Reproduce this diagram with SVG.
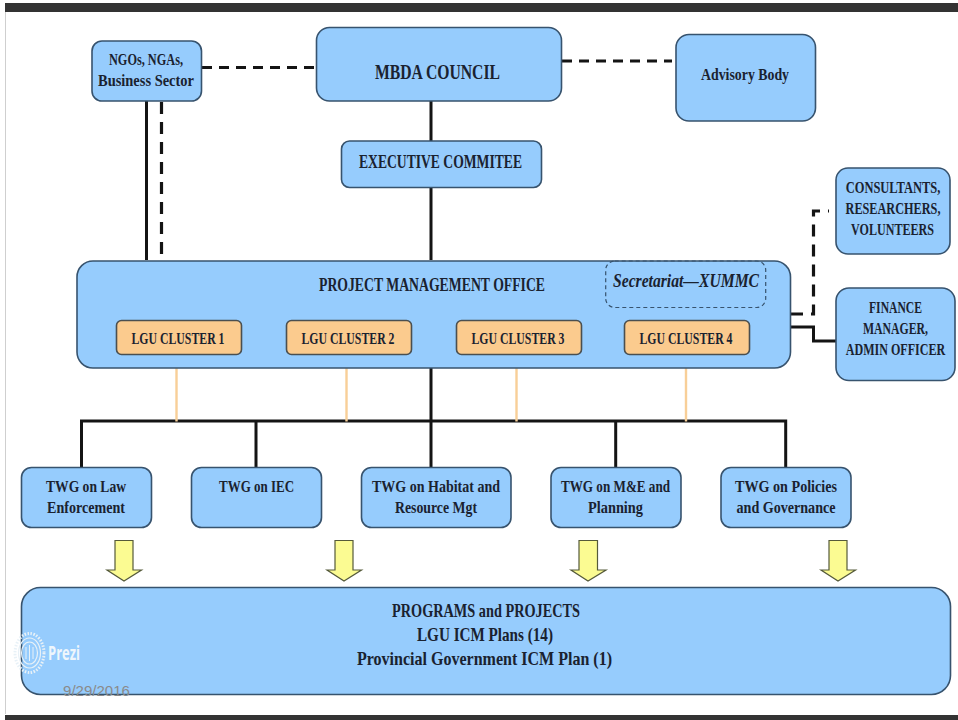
<svg xmlns="http://www.w3.org/2000/svg" width="958" height="720" viewBox="0 0 958 720">
<style>
text{font-family:"Liberation Serif","DejaVu Serif",serif;fill:#1a2230;text-anchor:middle;font-weight:bold;font-size:17.500px}
.n{fill:#96ccfd;stroke:#37536e;stroke-width:1.6}
.o{fill:#fbcb8e;stroke:#4a4f50;stroke-width:1.6}
.s{fill:none;stroke:#141414;stroke-width:3}
.d{fill:none;stroke:#141414;stroke-width:3.2;stroke-dasharray:10 7}
.v{fill:none;stroke:#141414;stroke-width:3.2;stroke-dasharray:12 8}
.t{fill:none;stroke:#f8cf98;stroke-width:2.4}
.a{fill:#fbfb92;stroke:#555a3a;stroke-width:1.2}
.r{fill:none;stroke:#e8f1f7}
</style>
<rect width="958" height="720" fill="#fff"/>
<line x1="5.500" y1="12" x2="5.500" y2="714" stroke="#cfcfcf"/>
<rect x="5" y="3" width="953" height="9" fill="#333"/>
<rect x="5" y="715" width="953" height="5" fill="#333"/>
<g id="connectors">
<path class="d" d="M202 67.500H316"/>
<path class="d" d="M562 61H672"/>
<path class="s" d="M146.500 101V260"/>
<path class="v" d="M161.500 102V255"/>
<path class="s" d="M431 101V141M431 187V260"/>
<path class="v" d="M791 314H813.500V211H829"/>
<path class="s" d="M791 327H813.500V341H836"/>
<path class="s" d="M431 367V467M81.500 467V421H785.700V467M256 421V467M615.700 421V467"/>
<path class="t" d="M176.500 354V421.500M346.500 354V421.500M516.500 354V421.500M686 354V421.500"/>
</g>
<g id="mbda-council"><rect class="n" x="316.500" y="27.500" width="245" height="73.500" rx="13"/><text x="437.500" y="78.500" textLength="125" lengthAdjust="spacingAndGlyphs" style="font-size:22px">MBDA COUNCIL</text></g>
<g id="ngos"><rect class="n" x="92" y="41" width="109.500" height="60" rx="10"/><text x="146" y="65" textLength="74" lengthAdjust="spacingAndGlyphs">NGOs, NGAs,</text><text x="146" y="86" textLength="96" lengthAdjust="spacingAndGlyphs">Business Sector</text></g>
<g id="advisory"><rect class="n" x="676" y="34.500" width="139.500" height="86.500" rx="13"/><text x="745" y="80" textLength="88" lengthAdjust="spacingAndGlyphs">Advisory Body</text></g>
<g id="executive"><rect class="n" x="341.500" y="141" width="200" height="46.500" rx="8"/><text x="440.500" y="168" textLength="163" lengthAdjust="spacingAndGlyphs" style="font-size:19px">EXECUTIVE COMMITEE</text></g>
<g id="consultants"><rect class="n" x="836" y="168" width="114" height="86" rx="12"/><text transform="translate(893 193) scale(.712 1)">CONSULTANTS,</text><text transform="translate(893 214) scale(.7 1)">RESEARCHERS,</text><text transform="translate(892.500 235) scale(.69 1)">VOLUNTEERS</text></g>
<g id="finance"><rect class="n" x="836" y="288" width="119" height="92.500" rx="13"/><text x="895.500" y="313" textLength="53" lengthAdjust="spacingAndGlyphs">FINANCE</text><text x="895.500" y="334" textLength="65" lengthAdjust="spacingAndGlyphs">MANAGER,</text><text transform="translate(895.500 355) scale(.69 1)">ADMIN OFFICER</text></g>
<g id="pmo"><rect class="n" x="77" y="261" width="713.500" height="107" rx="16"/><text x="432" y="291" textLength="226" lengthAdjust="spacingAndGlyphs" style="font-size:19px">PROJECT MANAGEMENT OFFICE</text>
<rect x="605.700" y="261" width="160" height="46.500" rx="9" fill="none" stroke="#37536e" stroke-width="1.200" stroke-dasharray="4 3"/><text x="686" y="287" textLength="146" lengthAdjust="spacingAndGlyphs" style="font-size:19px;font-style:italic">Secretariat—XUMMC</text></g>
<g id="cluster1"><rect class="o" x="116.500" y="320.500" width="125" height="34" rx="5"/><text x="178" y="344" textLength="93" lengthAdjust="spacingAndGlyphs">LGU CLUSTER 1</text></g>
<g id="cluster2"><rect class="o" x="286.500" y="320.500" width="125" height="34" rx="5"/><text x="348" y="344" textLength="93" lengthAdjust="spacingAndGlyphs">LGU CLUSTER 2</text></g>
<g id="cluster3"><rect class="o" x="456.500" y="320.500" width="125" height="34" rx="5"/><text x="518" y="344" textLength="93" lengthAdjust="spacingAndGlyphs">LGU CLUSTER 3</text></g>
<g id="cluster4"><rect class="o" x="624.500" y="320.500" width="125" height="34" rx="5"/><text x="686" y="344" textLength="93" lengthAdjust="spacingAndGlyphs">LGU CLUSTER 4</text></g>
<g id="twg1"><rect class="n" x="21.500" y="467.500" width="130" height="60" rx="10"/><text x="86" y="492" textLength="80" lengthAdjust="spacingAndGlyphs">TWG on Law</text><text x="86" y="513" textLength="78" lengthAdjust="spacingAndGlyphs">Enforcement</text></g>
<g id="twg2"><rect class="n" x="191.500" y="467.500" width="130" height="60" rx="10"/><text x="256.500" y="492" textLength="75" lengthAdjust="spacingAndGlyphs">TWG on IEC</text></g>
<g id="twg3"><rect class="n" x="361.500" y="467.500" width="149.500" height="60" rx="10"/><text x="436" y="492" textLength="128" lengthAdjust="spacingAndGlyphs">TWG on Habitat and</text><text x="436" y="513" textLength="82" lengthAdjust="spacingAndGlyphs">Resource Mgt</text></g>
<g id="twg4"><rect class="n" x="551" y="467.500" width="130" height="60" rx="10"/><text x="615.500" y="492" textLength="109" lengthAdjust="spacingAndGlyphs">TWG on M&amp;E and</text><text x="615.500" y="513" textLength="55" lengthAdjust="spacingAndGlyphs">Planning</text></g>
<g id="twg5"><rect class="n" x="721" y="467.500" width="130" height="60" rx="10"/><text x="786" y="492" textLength="102" lengthAdjust="spacingAndGlyphs">TWG on Policies</text><text x="786" y="513" textLength="99" lengthAdjust="spacingAndGlyphs">and Governance</text></g>
<g id="arrows">
<path class="a" d="M115 540.500H133V570H141.500L124 581L107 570H115Z"/>
<path class="a" d="M335 540.500H353V570H361.500L344 581L327 570H335Z"/>
<path class="a" d="M579 540.500H597.500V570H606L588 581L571 570H579Z"/>
<path class="a" d="M829 540.500H847V570H855.500L838 581L821 570H829Z"/>
</g>
<g id="programs"><rect class="n" x="21.500" y="587.500" width="929" height="107" rx="19"/>
<text x="486" y="617" textLength="188" lengthAdjust="spacingAndGlyphs" style="font-size:19px">PROGRAMS and PROJECTS</text><text x="485" y="641" textLength="136" lengthAdjust="spacingAndGlyphs" style="font-size:19px">LGU ICM Plans (14)</text><text x="484.500" y="665" textLength="255" lengthAdjust="spacingAndGlyphs" style="font-size:19px">Provincial Government ICM Plan (1)</text></g>
<g id="prezi">
<ellipse class="r" cx="29.500" cy="653" rx="14.500" ry="19.500" stroke-width="3" stroke-dasharray="1.500 1.500"/><ellipse class="r" cx="29.500" cy="653" rx="11" ry="15" stroke-width="1.200"/><ellipse class="r" cx="29.500" cy="653" rx="8" ry="11" stroke-width="1.200"/><path class="r" stroke-width="1" d="M26 647V659M29.500 645V661M33 647V659"/>
<text x="64" y="660" textLength="32" lengthAdjust="spacingAndGlyphs" style="font-family:'Open Sans',sans-serif;font-size:19px;fill:#eef6fc">Prezi</text>
</g>
<text x="96.500" y="696" textLength="67" lengthAdjust="spacingAndGlyphs" style="font-family:'Liberation Sans',sans-serif;font-size:15px;font-weight:normal;fill:#8a8a8a">9/29/2016</text>
</svg>
